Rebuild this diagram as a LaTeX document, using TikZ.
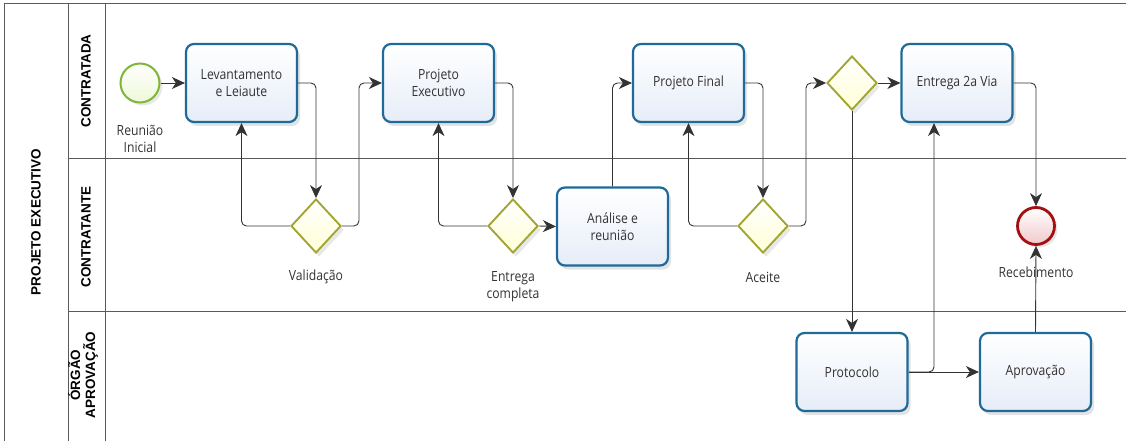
\documentclass[tikz,border=0pt]{standalone}
\usepackage{fontspec}
\setmainfont[FakeStretch=0.87]{Open Sans}
\newfontfamily\lanefont{Liberation Sans}
\usetikzlibrary{shapes.geometric,shadows,arrows.meta}
\definecolor{taskborder}{HTML}{1F6A98}
\definecolor{taskfill}{HTML}{E6EDF8}
\definecolor{gwborder}{HTML}{A3A533}
\definecolor{gwfill}{HTML}{FFFFD6}
\definecolor{stborder}{HTML}{7DB63A}
\definecolor{stfill}{HTML}{EEF8D8}
\definecolor{endborder}{HTML}{A30F12}
\definecolor{endfill}{HTML}{F2C9CB}
\definecolor{txt}{HTML}{333333}
\definecolor{poolline}{HTML}{5A5A5A}
\tikzset{
  every node/.style={font=\fontsize{14}{17}\selectfont, text=txt},
  task/.style={draw=taskborder, line width=2.2pt, rounded corners=8pt,
    top color=white, bottom color=taskfill, minimum width=111pt, minimum height=78pt,
    align=center, inner sep=2pt,
    drop shadow={opacity=0.22, shadow xshift=3pt, shadow yshift=-4pt}},
  gateway/.style={diamond, draw=gwborder, line width=1.9pt, top color=white, bottom color=gwfill,
    minimum width=50pt, minimum height=54pt, inner sep=0pt,
    drop shadow={opacity=0.18, shadow xshift=3pt, shadow yshift=-4pt}},
  startev/.style={circle, draw=stborder, line width=2pt, top color=white, bottom color=stfill,
    minimum size=39pt, inner sep=0pt,
    drop shadow={opacity=0.18, shadow xshift=3pt, shadow yshift=-3pt}},
  endev/.style={circle, draw=endborder, line width=2.8pt, top color=white, bottom color=endfill,
    minimum size=37pt, inner sep=0pt,
    drop shadow={opacity=0.2, shadow xshift=3pt, shadow yshift=-3pt}},
  lbl/.style={align=center, inner sep=0pt},
  lanelbl/.style={rotate=90, font=\lanefont\bfseries\fontsize{13.5}{15}\selectfont, text=black, align=center, inner sep=0pt},
  flow/.style={draw=txt, line width=0.9pt, rounded corners=5pt, -{Stealth[length=13pt,width=12pt,inset=4pt]}},
  pool/.style={draw=poolline, line width=0.9pt}
}
\begin{document}
\begin{tikzpicture}[x=1pt,y=-1pt]
\useasboundingbox (0,0) rectangle (1126,441);
% pool and lanes
\draw[pool] (4,441) -- (4,3) -- (1126,3);
\draw[pool] (68,3) -- (68,441);
\draw[pool] (105,3) -- (105,441);
\draw[pool] (68,158.5) -- (1126,158.5);
\draw[pool] (68,311.5) -- (1126,311.5);
\node[lanelbl] (poolname) at (36,222) {PROJETO EXECUTIVO};
\node[lanelbl] (lane1) at (86,81) {CONTRATADA};
\node[lanelbl] (lane2) at (86,237) {CONTRATANTE};
\node[lanelbl] (lane3) at (83,375) {ÓRGÃO\\APROVAÇÃO};
% nodes
\node[startev] (start) at (140,83) {};
\node[lbl] (startlbl) at (140,139) {Reunião\\Inicial};
\node[task] (lev) at (241.5,83) {Levantamento\\e Leiaute};
\node[task] (pexe) at (438.5,83) {Projeto\\Executivo};
\node[task] (pfin) at (688.5,83) {Projeto Final};
\node[gateway] (gw4) at (852,83) {};
\node[task] (e2v) at (957,83) {Entrega 2a Via};
\node[gateway] (val) at (316,226) {};
\node[lbl] (vallbl) at (316,277) {Validação};
\node[gateway] (entc) at (513,226) {};
\node[lbl] (entclbl) at (513,287) {Entrega\\completa};
\node[task] (anal) at (612.5,226.5) {Análise e\\reunião};
\node[gateway] (aceite) at (763,226) {};
\node[lbl] (aceitelbl) at (763,277) {Aceite};
\node[endev] (rec) at (1036,226) {};
\node[task] (prot) at (852,372) {Protocolo};
\node[task] (aprov) at (1035.5,372) {Aprovação};
% connectors
\draw[flow] (start.east) -- (lev.west);
\draw[flow] (lev.east) -| (val.north);
\draw[flow] (val.west) -| (lev.south);
\draw[flow] (val.east) -- ++(17,0) |- (pexe.west);
\draw[flow] (pexe.east) -| (entc.north);
\draw[flow] (entc.west) -| (pexe.south);
\draw[flow] (entc.east) -- (anal.west);
\draw[flow] (anal.north) |- (pfin.west);
\draw[flow] (pfin.east) -| (aceite.north);
\draw[flow] (aceite.west) -| (pfin.south);
\draw[flow] (aceite.east) -- ++(17,0) |- (gw4.west);
\draw[flow] (gw4.east) -- (e2v.west);
\draw[flow] (gw4.south) -- (prot.north);
\draw[flow] (prot.east) -- (aprov.west);
\draw[flow] (prot.east) -| ([xshift=-23pt]e2v.south);
\draw[flow] (aprov.north) -- (rec.south);
\draw[flow] (e2v.east) -| (rec.north);
\node[lbl] (reclbl) at (1036,272) {Recebimento};
\end{tikzpicture}
\end{document}
